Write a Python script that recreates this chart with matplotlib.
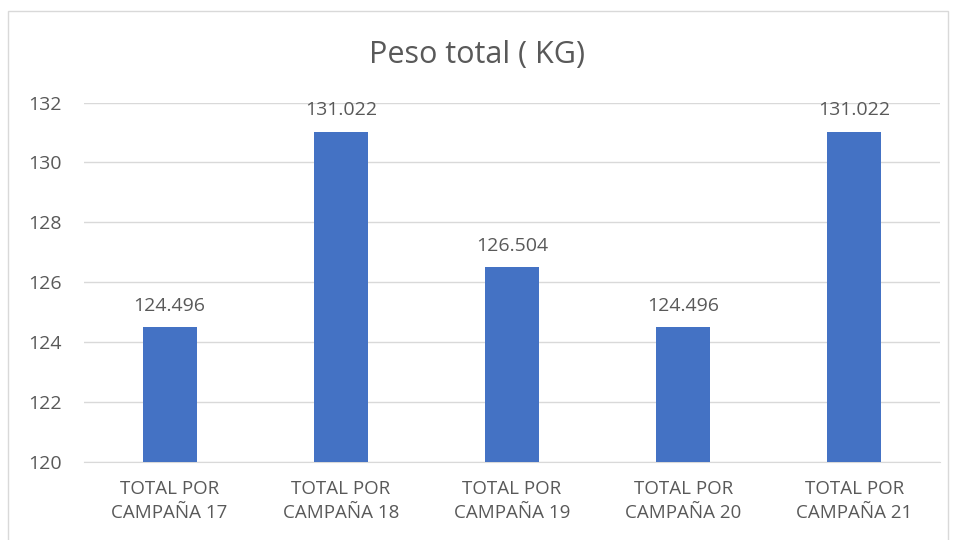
import matplotlib
matplotlib.use("Agg")
import matplotlib.pyplot as plt
from matplotlib.patches import Rectangle

categories = ["TOTAL POR\nCAMPAÑA 17", "TOTAL POR\nCAMPAÑA 18", "TOTAL POR\nCAMPAÑA 19",
              "TOTAL POR\nCAMPAÑA 20", "TOTAL POR\nCAMPAÑA 21"]
values = [124.496, 131.022, 126.504, 124.496, 131.022]
value_labels = ["124.496", "131.022", "126.504", "124.496", "131.022"]
yticks = [120, 122, 124, 126, 128, 130, 132]

plt.rcParams['font.family'] = ['Open Sans', 'DejaVu Sans']
txt = '#595959'

fig = plt.figure(figsize=(9.54, 5.40), dpi=100)
fig.patches.append(Rectangle((8/954, -0.01), 940/954, 1 - 11/540 + 0.01, transform=fig.transFigure,
                             fill=False, edgecolor='#d9d9d9', linewidth=1.0))
ax = fig.add_axes([84/954, 78/540, 856/954, 359.5/540])

x = list(range(len(categories)))
ax.bar(x, values, width=0.315, color='#4472C4', zorder=3)
ax.set_ylim(120, 132)
ax.set_xlim(-0.5, len(categories) - 0.5)
ax.set_yticks(yticks)
ax.set_yticklabels([str(t) for t in yticks], color=txt, fontsize=14)
ax.set_xticks(x)
ax.set_xticklabels(categories, color=txt, fontsize=13.5, linespacing=1.45)
ax.tick_params(axis='both', length=0)
ax.tick_params(axis='y', pad=16)
ax.tick_params(axis='x', pad=13)
ax.grid(axis='y', color='#d9d9d9', linewidth=1.0, zorder=0)
for s in ['top', 'right', 'left']:
    ax.spines[s].set_visible(False)
ax.spines['bottom'].set_color('#d9d9d9')

for xi, v, lab in zip(x, values, value_labels):
    ax.annotate(lab, (xi, v), xytext=(0, 9), textcoords='offset points',
                ha='center', va='bottom', color=txt, fontsize=14)

fig.text(0.5, 1 - 55/540, "Peso total ( KG)", ha='center', va='center', color=txt, fontsize=22)

fig.savefig("out.png", dpi=100)
